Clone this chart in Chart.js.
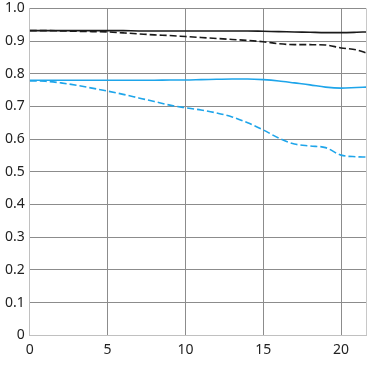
<!DOCTYPE html>
<html>
<head>
<meta charset="utf-8">
<script src="https://cdn.jsdelivr.net/npm/chart.js@4/dist/chart.umd.min.js"></script>
<style>
  html, body { margin: 0; padding: 0; background: #fff; overflow: hidden; }
  #wrap { width: 381px; height: 381px; overflow: hidden; position: relative; }
  #chart1 { position: absolute; left: 0; top: -5px; }
</style>
</head>
<body>
<div id="wrap"><canvas id="chart1" width="381" height="386"></canvas></div>
<script>
var xValues = [0, 1, 2, 3, 4, 5, 6, 7, 8, 9, 10, 11, 12, 13, 14, 15, 16, 17, 18, 19, 20, 21, 21.6];
var blackSolid = [0.932, 0.932, 0.932, 0.932, 0.932, 0.932, 0.932, 0.931, 0.931, 0.931, 0.931, 0.931, 0.931, 0.931, 0.931, 0.930, 0.929, 0.928, 0.927, 0.926, 0.926, 0.927, 0.928];
var blackDashed = [0.932, 0.932, 0.931, 0.930, 0.929, 0.928, 0.925, 0.922, 0.919, 0.917, 0.914, 0.911, 0.908, 0.905, 0.902, 0.898, 0.892, 0.889, 0.889, 0.888, 0.879, 0.873, 0.864];
var blueSolid = [0.780, 0.780, 0.780, 0.780, 0.780, 0.780, 0.780, 0.780, 0.780, 0.781, 0.781, 0.782, 0.783, 0.784, 0.784, 0.782, 0.778, 0.772, 0.766, 0.759, 0.756, 0.758, 0.759];
var blueDashed = [0.778, 0.777, 0.772, 0.765, 0.756, 0.747, 0.737, 0.726, 0.715, 0.704, 0.696, 0.689, 0.680, 0.668, 0.650, 0.628, 0.603, 0.585, 0.579, 0.574, 0.551, 0.546, 0.545];
var xTicks = [0, 5, 10, 15, 20];
var yTicks = [0, 0.1, 0.2, 0.3, 0.4, 0.5, 0.6, 0.7, 0.8, 0.9, 1.0];

function points(ys) {
    return xValues.map(function (x, i) { return { x: x, y: ys[i] }; });
}

function line(data, color, dashed) {
    return {
        data: points(data),
        borderColor: color,
        borderWidth: 1.6,
        borderDash: dashed ? [7, 3] : [],
        pointRadius: 0,
        fill: false,
        cubicInterpolationMode: 'monotone',
    };
}

// right edge of the plot box
var frame = {
    id: 'frame',
    afterDraw: function (chart) {
        var a = chart.chartArea, c = chart.ctx;
        c.save();
        c.strokeStyle = '#c8c8c8';
        c.lineWidth = 1;
        c.beginPath();
        c.moveTo(Math.round(a.right) + 0.5, a.top);
        c.lineTo(Math.round(a.right) + 0.5, a.bottom);
        c.stroke();
        c.restore();
    }
};

var ctx = document.getElementById('chart1').getContext('2d');
var myChart = new Chart(ctx, {
    type: 'line',
    data: {
        datasets: [
            line(blackSolid, '#1a1a1a', false),
            line(blackDashed, '#1a1a1a', true),
            line(blueSolid, '#1ea5ea', false),
            line(blueDashed, '#1ea5ea', true),
        ]
    },
    options: {
        responsive: false,
        maintainAspectRatio: false,
        animation: false,
        layout: { padding: { top: 0, right: 15, bottom: 17, left: 0 } },
        plugins: {
            legend: { display: false },
            tooltip: { enabled: false },
        },
        scales: {
            x: {
                type: 'linear',
                min: 0,
                max: 21.6,
                afterBuildTicks: function (axis) {
                    axis.ticks = xTicks.map(function (v) { return { value: v }; });
                },
                grid: { color: '#8c8c8c', drawTicks: false },
                border: { color: '#c0c0c0' },
                ticks: {
                    padding: 6,
                    color: '#222',
                    font: { family: 'Noto Sans', size: 14 },
                    maxRotation: 0,
                },
            },
            y: {
                min: 0,
                max: 1,
                afterBuildTicks: function (axis) {
                    axis.ticks = yTicks.map(function (v) { return { value: v }; });
                },
                grid: { color: '#8c8c8c', drawTicks: false },
                border: { color: '#c0c0c0' },
                ticks: {
                    padding: 5,
                    color: '#222',
                    font: { family: 'Noto Sans', size: 14 },
                    callback: function (v) { return v === 0 ? '0' : v.toFixed(1); },
                },
            }
        }
    },
    plugins: [frame]
});
</script>
</body>
</html>
